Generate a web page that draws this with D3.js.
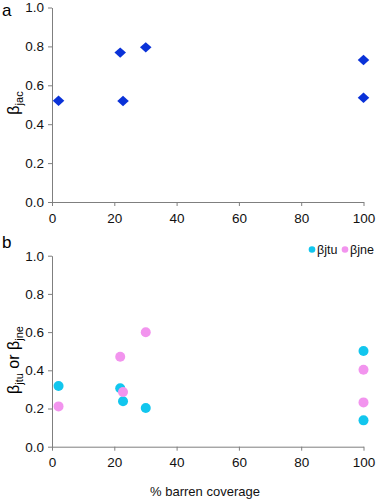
<!DOCTYPE html>
<html><head><meta charset="utf-8">
<script src="https://cdn.jsdelivr.net/npm/d3@7"></script>
<style>
body{margin:0;background:#fff;}
text{font-family:"Liberation Sans",Arial,sans-serif;}
.axis path,.axis line{stroke:#7f7f7f;}
.axis text{font-size:13.5px;fill:#111;}
</style></head>
<body><svg id="c" width="380" height="500"></svg>
<script>
const coverageA = [2.1, 21.9, 22.8, 30.1, 100, 100];
const betaJac   = [0.521, 0.768, 0.519, 0.795, 0.73, 0.536];
const coverageB = [2.1, 21.9, 22.8, 30.1, 100, 100];
const betaJtu   = [0.318, 0.306, 0.238, 0.203, 0.501, 0.138];
const betaJne   = [0.211, 0.471, 0.286, 0.599, 0.403, 0.232];
const xTicks = [0, 20, 40, 60, 80, 100];
const yTicks = [0, 0.2, 0.4, 0.6, 0.8, 1.0];
const seriesNames = ["βjtu", "βjne"];
const colors = {blue:"#0a32d8", cyan:"#12c6ee", pink:"#f294ee"};

const svg = d3.select("#c");
const x = d3.scaleLinear().domain([0,100]).range([52,363.5]);

function panel(top, bottom, label, labelY){
  const y = d3.scaleLinear().domain([0,1]).range([bottom, top]);
  svg.append("g").attr("class","axis").attr("transform",`translate(0,${bottom})`)
    .call(d3.axisBottom(x).tickValues(xTicks).tickSize(4).tickSizeOuter(0).tickPadding(6))
    .call(g=>g.selectAll("text").attr("dy","0.8em"));
  svg.append("g").attr("class","axis").attr("transform",`translate(52,0)`)
    .call(d3.axisLeft(y).tickValues(yTicks).tickFormat(d3.format(".1f")).tickSize(4).tickSizeOuter(0).tickPadding(4));
  svg.append("text").attr("x",2).attr("y",labelY).attr("font-size",17).text(label);
  return y;
}

// Panel a
const ya = panel(7.5, 202, "a", 16);
svg.append("g").selectAll("path").data(coverageA).join("path")
  .attr("d", d3.symbol(d3.symbolDiamond2, 70))
  .attr("transform",(d,i)=>`translate(${x(d)},${ya(betaJac[i])}) scale(1.1,1)`)
  .attr("fill",colors.blue);
const ta = svg.append("text").attr("transform","translate(19,103) rotate(-90)")
  .attr("text-anchor","middle").attr("font-size",16);
ta.append("tspan").text("β");
ta.append("tspan").attr("font-size",11).attr("dy",4).text("jac");

// Panel b
const yb = panel(255.7, 446.7, "b", 248);
svg.append("g").selectAll("circle").data(coverageB).join("circle")
  .attr("cx",d=>x(d)).attr("cy",(d,i)=>yb(betaJtu[i])).attr("r",5).attr("fill",colors.cyan);
svg.append("g").selectAll("circle").data(coverageB).join("circle")
  .attr("cx",d=>x(d)).attr("cy",(d,i)=>yb(betaJne[i])).attr("r",5).attr("fill",colors.pink);
const tb = svg.append("text").attr("transform","translate(19,360) rotate(-90)")
  .attr("text-anchor","middle").attr("font-size",16);
tb.append("tspan").text("β");
tb.append("tspan").attr("font-size",11).attr("dy",4).text("jtu");
tb.append("tspan").attr("dy",-4).text(" or β");
tb.append("tspan").attr("font-size",11).attr("dy",4).text("jne");

svg.append("text").attr("x",205).attr("y",496).attr("text-anchor","middle")
  .attr("font-size",13).attr("fill","#111").text("% barren coverage");

// Legend
const leg = svg.append("g");
const legX = [312, 345];
const legC = [colors.cyan, colors.pink];
seriesNames.forEach((n,i)=>{
  leg.append("circle").attr("cx",legX[i]).attr("cy",249.5).attr("r",3.3).attr("fill",legC[i]);
  leg.append("text").attr("x",legX[i]+5).attr("y",253.5).attr("font-size",12.5).attr("fill","#111").text(n);
});
</script></body></html>
